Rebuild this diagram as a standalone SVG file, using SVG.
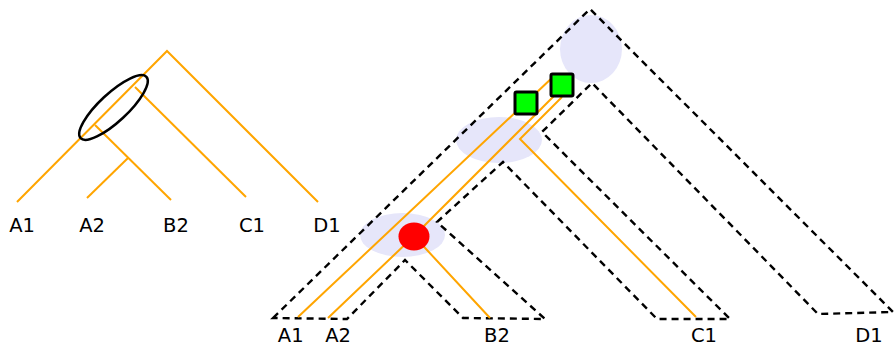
<svg xmlns="http://www.w3.org/2000/svg" width="894" height="347" viewBox="0 0 894 347">
<style>
.g{fill:none;stroke:#FFA500;stroke-width:2}
.sp{fill:none;stroke:#000;stroke-width:2.4;stroke-dasharray:7,5}
.lab{font-family:"DejaVu Sans",sans-serif;font-size:19.5px;fill:#000;text-anchor:middle}
.hl{fill:#E6E6FA}
.sq{fill:#00FF00;stroke:#000;stroke-width:3}
</style>
<rect width="894" height="347" fill="#fff"/>
<g id="left-tree">
<g id="connectors-left">
<path class="g" d="M17,202 L167,51 L318,202"/>
<path class="g" d="M135,87 L246,197"/>
<path class="g" d="M95,125 L171,200"/>
<path class="g" d="M128,158 L87,198"/>
</g>
<ellipse id="circle-left" cx="113.5" cy="107.5" rx="45" ry="14" fill="none" stroke="#000" stroke-width="2.5" transform="rotate(-43 113.5 107.5)"/>
<g id="labels-left">
<text class="lab" x="22" y="232">A1</text>
<text class="lab" x="92" y="232">A2</text>
<text class="lab" x="176" y="232">B2</text>
<text class="lab" x="252" y="232">C1</text>
<text class="lab" x="327" y="232">D1</text>
</g>
</g>
<g id="right-tree">
<g id="highlights">
<ellipse class="hl" cx="591" cy="49" rx="31" ry="34"/>
<ellipse class="hl" cx="499" cy="140" rx="43" ry="23"/>
<ellipse class="hl" cx="402.5" cy="235" rx="42.5" ry="22"/>
</g>
<g id="species-tree">
<path class="sp" d="M273,318 L590,9 L893,312 L818,314 L592,83 L542,132 L730,319 L657,319 L503,162 L437,222 L545,319 L463,318 L405,260 L347,319 Z"/>
</g>
<g id="gene-tree">
<path class="g" d="M298,317 L553,77"/>
<path class="g" d="M328,318 L414,236 L490,318"/>
<path class="g" d="M414,236 L562,88"/>
<path class="g" d="M696,317 L520,139 L562,97"/>
</g>
<g id="node-dup"><ellipse cx="414" cy="236.5" rx="15.5" ry="14" fill="#FF0000"/></g>
<g id="node-sq1"><rect class="sq" x="515" y="92" width="22" height="22" rx="1.5"/></g>
<g id="node-sq2"><rect class="sq" x="551" y="74" width="22" height="22" rx="1.5"/></g>
<g id="labels-right">
<text class="lab" x="290.7" y="342">A1</text>
<text class="lab" x="338" y="342">A2</text>
<text class="lab" x="497" y="342">B2</text>
<text class="lab" x="704" y="342">C1</text>
<text class="lab" x="869" y="342">D1</text>
</g>
</g>
</svg>
